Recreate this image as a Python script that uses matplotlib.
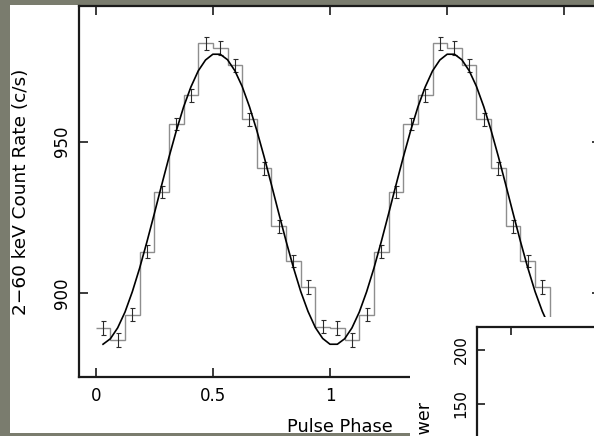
import numpy as np
import matplotlib
matplotlib.use("Agg")
import matplotlib.pyplot as plt
from matplotlib.patches import Rectangle

# folded pulse profile, 16 phase bins per cycle (plotted twice)
bin_counts = [888.6, 884.6, 893.0, 913.7, 933.4, 955.8, 965.3, 982.4,
              980.9, 975.1, 957.4, 941.2, 922.1, 910.6, 902.1, 889.0]
bin_errors = [2.2, 2.4, 2.2, 2.2, 2.1, 2.1, 2.1, 2.1,
              2.2, 2.2, 2.1, 2.1, 2.1, 2.1, 2.2, 2.2]
# sinusoid fit, read every half bin (phase 1/32 ... 1) over one cycle
fit_values = [883.2, 885.0, 888.6, 893.8, 900.5, 908.3, 917.0, 926.2,
              935.6, 944.8, 953.5, 961.4, 968.0, 973.3, 976.9, 978.8,
              978.8, 977.0, 973.4, 968.2, 961.5, 953.7, 945.0, 935.8,
              926.4, 917.2, 908.5, 900.6, 894.0, 888.7, 885.1, 883.2]
x_ticks = [0, 0.5, 1, 1.5, 2]
x_tick_labels = ["0", "0.5", "1", "1.5", "2"]
y_ticks = [900, 950]
inset_y_ticks = [150, 200]

plt.rcParams['font.family'] = ['DejaVu Sans']

W, H = 594, 436
fig = plt.figure(figsize=(W / 100, H / 100), dpi=100, facecolor="#7a7c6e")


def box(x0, y0, x1, y1):
    # pixel box measured from the top left -> [left, bottom, width, height]
    return [x0 / W, 1 - y1 / H, (x1 - x0) / W, (y1 - y0) / H]


# white page behind the main plot
l, b, w, h = box(10, 5, 640, 432.5)
fig.add_artist(Rectangle((l, b), w, h, transform=fig.transFigure,
                         facecolor="white", edgecolor="none", zorder=-1))

ax = fig.add_axes(box(79, 6, 601, 377), zorder=0)
ax.set_xlim(-0.0713, 2.1566)
ax.set_ylim(872.4, 994.7)

n_cycles = 2
edges = np.arange(len(bin_counts) * n_cycles + 1) / len(bin_counts)
centers = edges[:-1] + 0.5 / len(bin_counts)
counts = np.tile(bin_counts, n_cycles)
errors = np.tile(bin_errors, n_cycles)

ax.stairs(counts, edges, baseline=None, color="#8e8e8e", lw=1.0)
ax.errorbar(centers, counts, yerr=errors, fmt="none", ecolor="#2a2a2a",
            elinewidth=0.8, capsize=1.8, capthick=0.8)

fit_phase = np.arange(1, len(fit_values) * n_cycles + 1) / len(fit_values)
ax.plot(fit_phase, np.tile(fit_values, n_cycles), color="black", lw=1.2)

ax.set_xticks(x_ticks)
ax.set_xticklabels(x_tick_labels)
ax.set_yticks(y_ticks)
ax.tick_params(direction="in", length=6.5, width=1.2, top=True, right=True,
               labelsize=12, color="#1a1a1a")
ax.tick_params(axis="x", pad=7)
ax.tick_params(axis="y", pad=6, labelrotation=90)
for lab in ax.get_yticklabels():
    lab.set_va("center")
for sp in ax.spines.values():
    sp.set_linewidth(1.6)
    sp.set_color("#1a1a1a")

ax.set_xlabel("Pulse Phase", fontsize=12.8)
ax.xaxis.label.set_va("baseline")
ax.xaxis.set_label_coords(0.5, (377 - 432) / 371)
ax.set_ylabel("2\u221260 keV Count Rate (c/s)", fontsize=13.3)
ax.yaxis.set_label_coords((30 - 79) / 522, 0.5)

# second panel pasted over the bottom right corner
l, b, w, h = box(410, 317, 640, 470)
fig.add_artist(Rectangle((l, b), w, h, transform=fig.transFigure,
                         facecolor="white", edgecolor="none", zorder=1))

ax_in = fig.add_axes(box(477, 327, 817, 566), zorder=2)
ax_in.set_facecolor("white")
ax_in.set_xlim(0, 1)
ax_in.set_ylim(0, 221.3)
ax_in.set_xticks([0.1])
ax_in.set_yticks(inset_y_ticks)
ax_in.tick_params(direction="in", length=6, width=1.2, top=True,
                  bottom=False, labelbottom=False, labelsize=11,
                  color="#1a1a1a")
ax_in.tick_params(axis="y", pad=6, labelrotation=90)
for lab in ax_in.get_yticklabels():
    lab.set_va("center")
for sp in ax_in.spines.values():
    sp.set_linewidth(1.6)
    sp.set_color("#1a1a1a")
ax_in.set_ylabel("Power", fontsize=12.5)
ax_in.yaxis.label.set_va("center")
ax_in.yaxis.set_label_coords((423 - 477) / 340, (566 - 426) / 239)

fig.savefig("out.png", dpi=100, facecolor=fig.get_facecolor())
